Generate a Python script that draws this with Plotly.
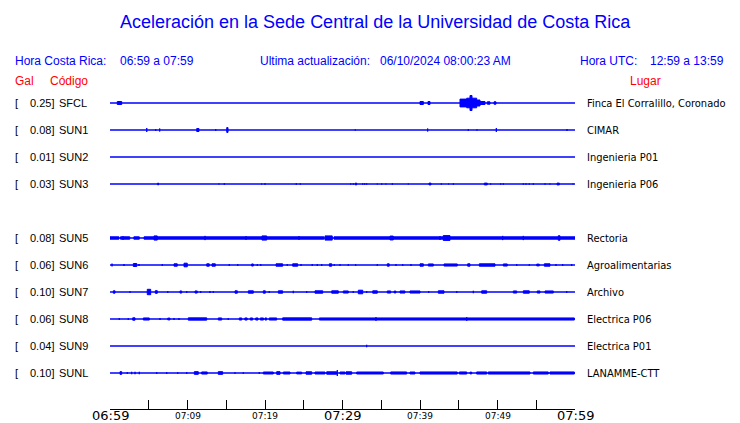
import plotly.graph_objects as go

# ---------------- data ----------------
TITLE = "Aceleración en la Sede Central de la Universidad de Costa Rica"
HORA_CR = "06:59 a 07:59"
HORA_UTC = "12:59 a 13:59"
ACTUALIZACION = "06/10/2024 08:00:23 AM"

ROW_ORDER = ["SFCL", "SUN1", "SUN2", "SUN3", "SUN4", "SUN5", "SUN6", "SUN7", "SUN8", "SUN9", "SUNL"]
CODES = ["SFCL", "SUN1", "SUN2", "SUN3", "SUN5", "SUN6", "SUN7", "SUN8", "SUN9", "SUNL"]
PEAK_GAL = [0.25, 0.08, 0.01, 0.03, 0.08, 0.06, 0.10, 0.06, 0.04, 0.10]
PLACES = ["Finca El Corralillo, Coronado", "CIMAR", "Ingenieria P01", "Ingenieria P06",
          "Rectoria", "Agroalimentarias", "Archivo", "Electrica P06", "Electrica P01", "LANAMME-CTT"]

TICK_MIN = [0, 5, 10, 15, 20, 25, 30, 35, 40, 45, 50, 55, 60]
LABEL_MIN = [0, 10, 20, 30, 40, 50, 60]
LABEL_TEXT = ["06:59", "07:09", "07:19", "07:29", "07:39", "07:49", "07:59"]

# marks per station: [start minute, end minute, half amplitude in Gal]  (minutes after 06:59)
MARKS_SFCL = [[0.94, 1.51, 0.05], [40.0, 40.43, 0.05], [41.03, 41.29, 0.05],
              [45.16, 46.03, 0.13], [46.03, 47.31, 0.16], [46.45, 46.71, 0.25],
              [47.31, 47.74, 0.10], [47.74, 48.39, 0.05], [48.68, 49.03, 0.04], [49.55, 49.81, 0.04]]
MARKS_SUN1 = [[4.74, 4.74, 0.067], [5.90, 5.90, 0.03], [6.41, 6.41, 0.05], [11.19, 11.48, 0.05],
              [13.64, 13.64, 0.03], [15.06, 15.23, 0.08], [31.65, 31.65, 0.02], [40.99, 40.99, 0.05],
              [46.23, 46.23, 0.03], [47.35, 47.35, 0.02], [49.85, 49.85, 0.067], [58.97, 58.97, 0.03]]
MARKS_SUN2 = []
MARKS_SUN3 = [[6.15, 6.27, 0.03], [14.06, 14.06, 0.015], [14.75, 14.75, 0.025], [19.57, 19.57, 0.015],
              [20.0, 20.0, 0.025], [24.04, 24.04, 0.025], [24.55, 24.55, 0.02], [31.06, 31.06, 0.02],
              [31.39, 31.39, 0.02], [31.65, 31.83, 0.03], [32.61, 32.61, 0.02], [32.86, 32.86, 0.02],
              [33.12, 33.12, 0.02], [34.49, 34.49, 0.015], [35.06, 35.06, 0.02], [35.61, 35.61, 0.015],
              [36.43, 36.43, 0.025], [38.49, 38.49, 0.015], [41.16, 41.42, 0.03], [42.75, 42.75, 0.02],
              [43.70, 43.70, 0.015], [44.30, 44.30, 0.025], [48.30, 48.68, 0.03], [49.12, 49.12, 0.02],
              [50.41, 50.41, 0.02], [50.75, 50.75, 0.02], [53.33, 53.33, 0.02], [53.68, 53.68, 0.02],
              [54.10, 54.10, 0.02], [54.62, 54.62, 0.025], [56.13, 56.13, 0.02], [56.77, 56.77, 0.015],
              [57.68, 57.98, 0.03], [59.74, 59.74, 0.015]]
MARKS_SUN5 = [[0.0, 1.15, 0.04], [1.68, 1.68, 0.06], [1.35, 2.55, 0.04], [3.08, 3.78, 0.04],
              [4.39, 27.6, 0.04], [5.68, 6.10, 0.07], [12.26, 12.26, 0.07], [17.55, 17.55, 0.06],
              [19.61, 20.22, 0.07], [24.39, 24.39, 0.06], [27.74, 28.68, 0.07], [28.9, 60.0, 0.04],
              [36.13, 36.55, 0.065], [42.58, 42.58, 0.065], [43.0, 43.87, 0.08],
              [50.67, 50.67, 0.07], [53.33, 53.33, 0.07], [57.84, 58.06, 0.075]]
MARKS_SUN6 = [[0.26, 0.26, 0.045], [1.81, 1.81, 0.033], [3.01, 3.45, 0.05], [3.74, 3.74, 0.033],
              [6.75, 6.75, 0.033], [8.26, 8.68, 0.04], [9.55, 9.97, 0.06], [12.48, 12.81, 0.04],
              [13.16, 13.59, 0.04], [15.39, 15.39, 0.033], [16.48, 16.48, 0.033], [18.28, 18.49, 0.035],
              [19.01, 19.01, 0.033], [19.45, 19.45, 0.033], [21.42, 22.28, 0.04], [22.88, 22.88, 0.033],
              [23.57, 24.22, 0.04], [24.65, 24.65, 0.033], [26.10, 26.10, 0.033], [26.75, 26.75, 0.033],
              [27.32, 27.32, 0.033], [28.30, 28.61, 0.04], [28.94, 28.94, 0.027], [29.68, 29.68, 0.027],
              [30.75, 30.75, 0.027], [31.70, 31.70, 0.027], [34.49, 34.49, 0.033], [35.78, 36.03, 0.04],
              [36.90, 36.90, 0.033], [37.77, 37.77, 0.027], [38.84, 38.84, 0.033], [40.0, 40.43, 0.04],
              [41.07, 41.72, 0.035], [43.10, 44.81, 0.035], [46.15, 46.45, 0.04], [47.65, 49.68, 0.04],
              [50.75, 51.26, 0.035], [52.48, 52.48, 0.033], [54.10, 54.10, 0.027], [55.06, 55.39, 0.03],
              [56.04, 56.77, 0.04], [57.55, 57.55, 0.033], [58.41, 58.41, 0.033], [59.57, 59.57, 0.033]]
MARKS_SUN7 = [[0.43, 0.65, 0.04], [2.58, 2.58, 0.027], [4.81, 5.25, 0.09], [5.85, 6.10, 0.045],
              [7.45, 7.45, 0.033], [9.03, 9.25, 0.035], [9.90, 9.90, 0.033], [10.97, 11.26, 0.035],
              [11.70, 11.70, 0.033], [12.90, 12.90, 0.033], [13.33, 13.33, 0.027], [16.13, 16.43, 0.04],
              [17.85, 18.49, 0.04], [19.78, 20.04, 0.04], [20.55, 20.55, 0.033], [21.72, 22.28, 0.04],
              [23.65, 23.65, 0.04], [25.38, 25.38, 0.033], [26.45, 27.45, 0.04], [28.61, 29.46, 0.04],
              [30.10, 30.75, 0.035], [31.39, 31.39, 0.033], [32.04, 32.61, 0.06], [33.12, 33.12, 0.033],
              [33.90, 34.49, 0.04], [35.78, 36.22, 0.035], [36.65, 36.90, 0.03], [37.42, 38.06, 0.035],
              [38.71, 40.0, 0.035], [41.12, 41.12, 0.033], [42.36, 43.10, 0.04], [44.74, 44.74, 0.033],
              [46.88, 46.88, 0.04], [47.96, 48.61, 0.04], [52.04, 52.48, 0.035], [53.33, 54.10, 0.04],
              [55.13, 55.48, 0.035], [56.13, 57.20, 0.035], [58.93, 58.93, 0.033]]
MARKS_SUN8 = [[1.20, 1.20, 0.033], [2.36, 2.36, 0.033], [2.93, 3.23, 0.04], [4.30, 5.07, 0.035],
              [6.45, 6.45, 0.033], [7.45, 7.74, 0.03], [8.26, 8.26, 0.033], [8.90, 8.90, 0.033],
              [10.10, 12.48, 0.038], [13.97, 14.41, 0.035], [15.26, 15.26, 0.033], [16.68, 17.0, 0.035],
              [17.4, 17.7, 0.035], [18.1, 18.4, 0.035], [18.8, 19.1, 0.035], [19.4, 19.8, 0.035],
              [20.0, 20.22, 0.035], [20.55, 21.51, 0.035], [22.28, 26.03, 0.038], [27.01, 59.91, 0.035],
              [34.32, 34.32, 0.06], [46.03, 46.03, 0.06]]
MARKS_SUN9 = [[33.12, 33.12, 0.04]]
MARKS_SUNL = [[1.29, 1.51, 0.045], [2.23, 2.23, 0.033], [2.80, 2.80, 0.04], [3.23, 3.23, 0.04],
              [3.78, 3.78, 0.04], [6.03, 6.03, 0.033], [7.32, 7.32, 0.033], [8.74, 8.74, 0.027],
              [9.90, 9.90, 0.033], [10.88, 11.39, 0.045], [11.83, 12.55, 0.035], [13.97, 14.54, 0.045],
              [16.13, 16.13, 0.027], [17.20, 17.20, 0.027], [19.26, 19.26, 0.033], [19.78, 21.07, 0.033],
              [21.51, 21.94, 0.045], [22.36, 23.23, 0.033], [24.09, 24.73, 0.03], [25.29, 26.03, 0.04],
              [26.45, 27.74, 0.033], [27.96, 29.25, 0.04], [29.33, 29.33, 0.10], [29.68, 30.32, 0.033],
              [30.45, 31.19, 0.04], [31.83, 35.26, 0.033], [36.22, 38.28, 0.035], [38.71, 39.35, 0.033],
              [40.0, 44.81, 0.035], [45.07, 46.03, 0.035], [46.45, 46.67, 0.03], [47.31, 48.61, 0.035],
              [48.81, 54.19, 0.035], [54.62, 56.55, 0.035], [56.77, 59.91, 0.035]]

STATION_MARKS = [MARKS_SFCL, MARKS_SUN1, MARKS_SUN2, MARKS_SUN3, MARKS_SUN5,
                 MARKS_SUN6, MARKS_SUN7, MARKS_SUN8, MARKS_SUN9, MARKS_SUNL]

# ---------------- layout constants (pixels) ----------------
W, H = 740, 423
PL, PR, PT, PB = 110, 575, 90, 409     # plot area edges in px
PX_PER_GAL = 30.0
ROW0_PX, ROW_STEP_PX = 103, 27
BLUE = "#0000FF"
RED = "#FF0000"
SANS = "Liberation Sans, Arial, sans-serif"
RIGHT_FONT = "DejaVu Sans Condensed, DejaVu Sans, sans-serif"
AX_FONT = "DejaVu Sans, sans-serif"

y_top = (PB - PT) / PX_PER_GAL


def row_y(code):
    slot = ROW_ORDER.index(code)
    return (PB - (ROW0_PX + ROW_STEP_PX * slot)) / PX_PER_GAL


def px_x(p):
    return (p - PL) / (PR - PL)


def px_y(p):
    return (PB - p) / (PB - PT)


fig = go.Figure()

for code, marks in zip(CODES, STATION_MARKS):
    c = row_y(code)
    fig.add_trace(go.Scatter(x=[TICK_MIN[0], TICK_MIN[-1]], y=[c, c], mode="lines",
                             line=dict(color=BLUE, width=1.3), hoverinfo="skip", showlegend=False))
    xs, ys = [], []
    for t0, t1, a in marks:
        xs += [t0, t1, t1, t0, t0, None]
        ys += [c - a, c - a, c + a, c + a, c - a, None]
    if xs:
        fig.add_trace(go.Scatter(x=xs, y=ys, mode="lines", fill="toself", fillcolor=BLUE,
                                 line=dict(color=BLUE, width=1), hoverinfo="skip", showlegend=False))

ann = []
# title and header
ann.append(dict(text=TITLE, x=px_x(375), y=px_y(22), xanchor="center", yanchor="middle",
                font=dict(family=SANS, size=18, color=BLUE)))
hdr = [("Hora Costa Rica:", 13), (HORA_CR, 118), ("Ultima actualización:", 258),
       (ACTUALIZACION, 378), ("Hora UTC:", 578), (HORA_UTC, 648)]
for t, x in hdr:
    ann.append(dict(text=t, x=px_x(x), y=px_y(61), xanchor="left", yanchor="middle",
                    font=dict(family=SANS, size=12, color=BLUE)))
for t, x in [("Gal", 13), ("Código", 48), ("Lugar", 628)]:
    ann.append(dict(text=t, x=px_x(x), y=px_y(81), xanchor="left", yanchor="middle",
                    font=dict(family=SANS, size=12, color=RED)))

# station labels
for code, g, place in zip(CODES, PEAK_GAL, PLACES):
    c = row_y(code)
    f = dict(family=SANS, size=11, color="black")
    ann.append(dict(text="[", x=px_x(13), y=c, yref="y", xanchor="left", yanchor="middle", font=f))
    ann.append(dict(text=f"{g:.2f}]", x=px_x(56), y=c, yref="y", xanchor="right", yanchor="middle", font=f))
    ann.append(dict(text=code, x=px_x(56.5), y=c, yref="y", xanchor="left", yanchor="middle", font=f))
    ann.append(dict(text=place, x=px_x(585), y=c, yref="y", xanchor="left", yanchor="middle",
                    font=dict(family=RIGHT_FONT, size=11, color="black")))

# time axis labels
for m, t in zip(LABEL_MIN, LABEL_TEXT):
    big = (m % 30 == 0)
    ann.append(dict(text=t, x=m, xref="x", y=px_y(415.5), xanchor="center", yanchor="middle",
                    font=dict(family=AX_FONT, size=13 if big else 9, color="black")))

for a in ann:
    a.setdefault("xref", "paper")
    a.setdefault("yref", "paper")
    a["showarrow"] = False

fig.update_layout(
    width=W, height=H,
    margin=dict(l=PL, r=W - PR, t=PT, b=H - PB, pad=0),
    paper_bgcolor="white", plot_bgcolor="white",
    annotations=ann,
    xaxis=dict(range=[TICK_MIN[0], TICK_MIN[-1]], tickvals=TICK_MIN, showticklabels=False,
               ticks="inside", ticklen=9, tickwidth=1, tickcolor="black",
               showline=True, linecolor="black", linewidth=1, showgrid=False, zeroline=False,
               fixedrange=True),
    yaxis=dict(range=[0, y_top], visible=False, fixedrange=True),
    showlegend=False,
)

fig.write_html("out.html", config={"displayModeBar": False},
               post_script="document.body.style.margin='0';document.body.style.overflow='hidden';")
